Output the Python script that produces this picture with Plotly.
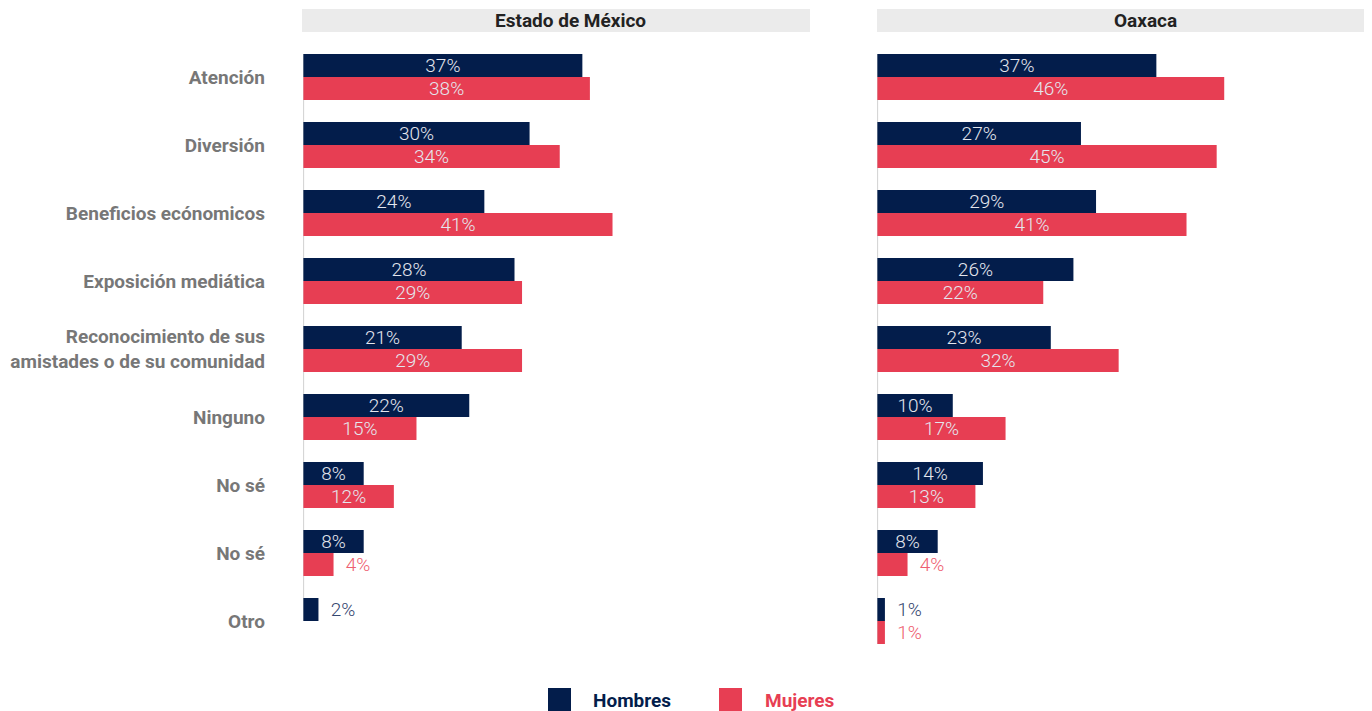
import plotly.graph_objects as go

categories = [
    "Atención",
    "Diversión",
    "Beneficios ecónomicos",
    "Exposición mediática",
    "Reconocimiento de sus<br>amistades o de su comunidad",
    "Ninguno",
    "No sé",
    "No sé",
    "Otro",
]
panels = ["Estado de México", "Oaxaca"]
series = ["Hombres", "Mujeres"]

edomex_hombres = [37, 30, 24, 28, 21, 22, 8, 8, 2]
edomex_mujeres = [38, 34, 41, 29, 29, 15, 12, 4, None]
oaxaca_hombres = [37, 27, 29, 26, 23, 10, 14, 8, 1]
oaxaca_mujeres = [46, 45, 41, 22, 32, 17, 13, 4, 1]

NAVY = "#031d4b"
RED = "#e73e53"
NAVY_TXT = "#34466f"
RED_TXT = "#ee5e70"
AXIS_GREY = "#d6d6d6"
FONT = "Roboto, Arial, sans-serif"

# the page body adds an 8px margin, so the figure is 8px smaller and
# every pixel position below is given in screen pixels minus that offset
OFF = 8
W, H = 1372 - OFF, 711 - OFF
BARGAP = 0.3235


def px_x(v):
    return (v - OFF) / W


def px_y(v):
    return 1 - (v - OFF) / H


ypos = list(range(len(categories)))


def labels(vals):
    text, pos = [], []
    for v in vals:
        if v is None:
            text.append("")
            pos.append("none")
        elif v < 5:
            text.append(f"  {v}%")
            pos.append("outside")
        else:
            text.append(f"{v}%")
            pos.append("inside")
    return text, pos


fig = go.Figure()
data = [(edomex_hombres, edomex_mujeres), (oaxaca_hombres, oaxaca_mujeres)]
half = (1 - BARGAP) / 2
for i, (hom, muj) in enumerate(data):
    xa = "x" if i == 0 else "x2"
    ya = "y" if i == 0 else "y2"
    for name, vals, col, out_col in [
        (series[0], hom, NAVY, NAVY_TXT),
        (series[1], muj, RED, RED_TXT),
    ]:
        text, pos = labels(vals)
        fig.add_trace(
            go.Bar(
                x=vals,
                y=ypos,
                orientation="h",
                name=name,
                marker_color=col,
                marker_line_width=0,
                text=text,
                textposition=pos,
                insidetextanchor="middle",
                textangle=0,
                constraintext="none",
                insidetextfont=dict(family=FONT, size=19, color="#e4e6ee", weight=300),
                outsidetextfont=dict(family=FONT, size=19, color=out_col, weight=300),
                cliponaxis=False,
                showlegend=False,
                xaxis=xa,
                yaxis=ya,
                hoverinfo="skip",
            )
        )
    # baseline only spans the drawn bars
    last = len(categories) - 1
    bottom = last + (half if muj[last] is not None else 0)
    fig.add_shape(
        type="line", xref=xa, yref=ya,
        x0=0, x1=0, y0=-half, y1=bottom,
        line=dict(color=AXIS_GREY, width=1.5), layer="below",
    )

scale = 7.54  # px per percentage point
d1 = [px_x(303), px_x(810)]
d2 = [px_x(877), 1.0]
ydom = [px_y(655), px_y(43)]

fig.update_layout(
    width=W,
    height=H,
    margin=dict(l=0, r=0, t=0, b=0),
    paper_bgcolor="white",
    plot_bgcolor="white",
    barmode="group",
    bargap=BARGAP,
    bargroupgap=0,
    font=dict(family=FONT),
    xaxis=dict(domain=d1, range=[-0.05, 507 / scale - 0.05], visible=False, fixedrange=True),
    xaxis2=dict(domain=d2, range=[-0.05, 495 / scale - 0.05], visible=False, fixedrange=True),
    yaxis=dict(
        domain=ydom,
        anchor="x",
        range=[len(categories) - 0.5, -0.5],
        tickvals=ypos,
        ticktext=[f"<b>{c}</b>" for c in categories],
        tickfont=dict(family=FONT, size=19, color="#777777"),
        ticks="",
        ticklabelstandoff=37,
        showline=False,
        showgrid=False,
        zeroline=False,
        automargin=False,
    ),
    yaxis2=dict(
        domain=ydom,
        anchor="x2",
        range=[len(categories) - 0.5, -0.5],
        showticklabels=False,
        ticks="",
        showline=False,
        showgrid=False,
        zeroline=False,
    ),
)

# facet header strips
strips = [(302, 810, 570), (877, 1372, 1145)]
for (x0, x1, xc), title in zip(strips, panels):
    fig.add_shape(
        type="rect", xref="paper", yref="paper",
        x0=px_x(x0), x1=px_x(x1), y0=px_y(32), y1=px_y(9),
        fillcolor="#ebebeb", line_width=0, layer="below",
    )
    fig.add_annotation(
        x=px_x(xc), y=px_y(20.5), xref="paper", yref="paper",
        text=f"<b>{title}</b>", showarrow=False,
        font=dict(family=FONT, size=19, color="#222222"),
        xanchor="center", yanchor="middle",
    )

# legend
legend_items = [(series[0], NAVY, 548, 591), (series[1], RED, 719, 763)]
for name, col, sx, tx in legend_items:
    fig.add_shape(
        type="rect", xref="paper", yref="paper",
        x0=px_x(sx), x1=px_x(sx + 23), y0=px_y(711), y1=px_y(688),
        fillcolor=col, line_width=0,
    )
    fig.add_annotation(
        x=px_x(tx), y=px_y(700), xref="paper", yref="paper",
        text=f"<b>{name}</b>", showarrow=False,
        font=dict(family=FONT, size=19, color=col),
        xanchor="left", yanchor="middle",
    )

fig.write_html("out.html")
